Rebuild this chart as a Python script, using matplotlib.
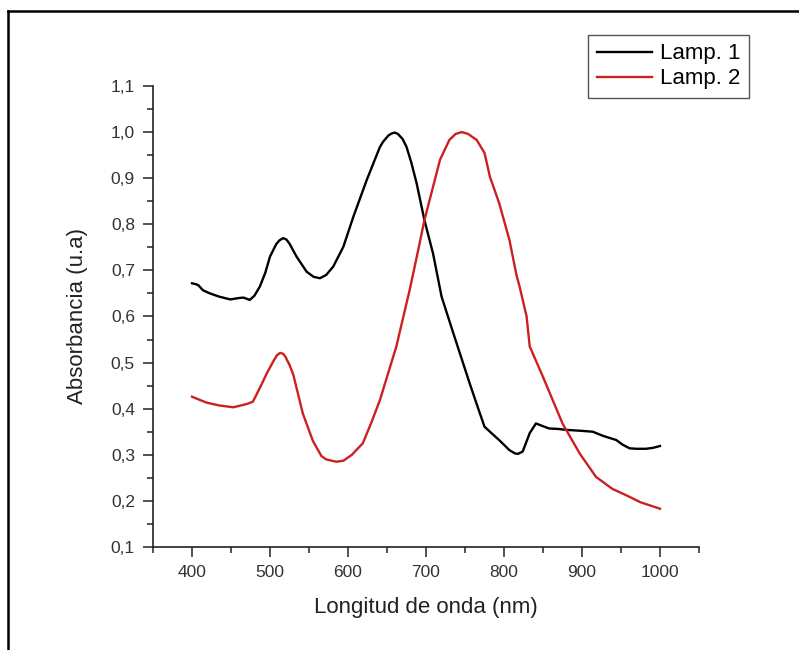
import matplotlib.pyplot as plt
import matplotlib.ticker as ticker
from matplotlib.lines import Line2D

plt.rcParams['font.family'] = ['Liberation Sans', 'DejaVu Sans']

# Lamp. 1 (black)
wl1 = [400, 405, 408, 414, 423, 435, 449, 460, 466, 474, 480, 487, 494, 500, 508, 512, 517, 521, 525, 534,
       547, 556, 564, 572, 581, 594, 607, 624, 641, 645, 652, 656, 660, 664, 670, 675, 681, 688, 698,
       709, 720, 735, 756, 765, 775, 782, 795, 807, 814, 818, 824, 833, 841, 850, 858,
       870, 880, 899, 914, 927, 944, 952, 961, 970, 982, 991, 1000]
abs1 = [0.672, 0.670, 0.668, 0.657, 0.650, 0.643, 0.637, 0.640, 0.641, 0.636, 0.645, 0.665, 0.695, 0.730, 0.757, 0.765, 0.770, 0.767, 0.758, 0.730,
        0.697, 0.686, 0.683, 0.690, 0.708, 0.751, 0.817, 0.896, 0.968, 0.979, 0.993, 0.997, 0.999, 0.996, 0.985, 0.968, 0.935, 0.889, 0.809,
        0.737, 0.643, 0.564, 0.455, 0.410, 0.361, 0.350, 0.330, 0.310, 0.303, 0.302, 0.307, 0.347, 0.368, 0.362, 0.357,
        0.356, 0.354, 0.352, 0.350, 0.341, 0.332, 0.322, 0.314, 0.313, 0.313, 0.315, 0.319]

# Lamp. 2 (red)
wl2 = [400, 410, 419, 435, 453, 470, 478, 487, 496, 505, 509, 513, 517, 520, 525, 530, 542, 555,
       566, 572, 577, 585, 594, 605, 619, 630, 641, 662, 679, 690, 698, 718, 730, 738, 746, 754, 765,
       775, 782, 794, 807, 816, 820, 829, 833, 850, 875, 897, 918, 939, 957, 975, 1000]
abs2 = [0.426, 0.419, 0.413, 0.407, 0.403, 0.410, 0.415, 0.445, 0.477, 0.505, 0.516, 0.521, 0.519, 0.512, 0.495, 0.473, 0.390, 0.330,
        0.297, 0.290, 0.288, 0.285, 0.287, 0.300, 0.325, 0.370, 0.419, 0.535, 0.657, 0.744, 0.809, 0.940, 0.983, 0.996, 1.000, 0.996, 0.983,
        0.955, 0.903, 0.845, 0.766, 0.690, 0.665, 0.600, 0.535, 0.469, 0.368, 0.303, 0.252, 0.226, 0.212, 0.197, 0.183]

fig = plt.figure(figsize=(7.99, 6.5), dpi=100)
ax = fig.add_axes([0.1915, 0.1585, 0.6833, 0.7092])

ax.plot(wl1, abs1, color='black', linewidth=1.7, label='Lamp. 1')
ax.plot(wl2, abs2, color='#cc2020', linewidth=1.7, label='Lamp. 2')

ax.set_xlim(350, 1050)
ax.set_ylim(0.1, 1.1)
ax.xaxis.set_major_locator(ticker.FixedLocator([400, 500, 600, 700, 800, 900, 1000]))
ax.xaxis.set_minor_locator(ticker.MultipleLocator(50))
ax.yaxis.set_major_locator(ticker.MultipleLocator(0.1))
ax.yaxis.set_minor_locator(ticker.MultipleLocator(0.05))
ax.yaxis.set_major_formatter(ticker.FuncFormatter(lambda v, p: f"{v:.1f}".replace('.', ',')))

for s in ['top', 'right']:
    ax.spines[s].set_visible(False)
for s in ['left', 'bottom']:
    ax.spines[s].set_linewidth(1.2)
    ax.spines[s].set_color('#222222')

ax.tick_params(which='major', direction='out', length=7, width=1.1, labelsize=12.5,
               labelcolor='#333333', color='#222222', pad=6)
ax.tick_params(which='minor', direction='out', length=4.5, width=1.1, color='#222222')

ax.set_xlabel('Longitud de onda (nm)', fontsize=16, color='#222222')
ax.set_ylabel('Absorbancia (u.a)', fontsize=16, color='#222222')
ax.xaxis.set_label_coords(0.5, -0.108)
ax.yaxis.set_label_coords(-0.119, 0.5)

leg = ax.legend(loc='upper right', bbox_to_anchor=(749 / 799, 1 - 35 / 650),
                bbox_transform=fig.transFigure, borderaxespad=0, fontsize=16,
                fancybox=False, framealpha=1, edgecolor='#555555',
                handlelength=2.5, handletextpad=0.35, labelspacing=0.18,
                borderpad=0.38)
leg.get_frame().set_linewidth(1.0)

# outer frame of the picture
fig.add_artist(Line2D([0.010, 0.010], [0, 0.983], transform=fig.transFigure,
                      color='black', linewidth=1.8))
fig.add_artist(Line2D([0.010, 1.0], [0.983, 0.983], transform=fig.transFigure,
                      color='black', linewidth=1.8))

fig.savefig('out.png', dpi=100)
